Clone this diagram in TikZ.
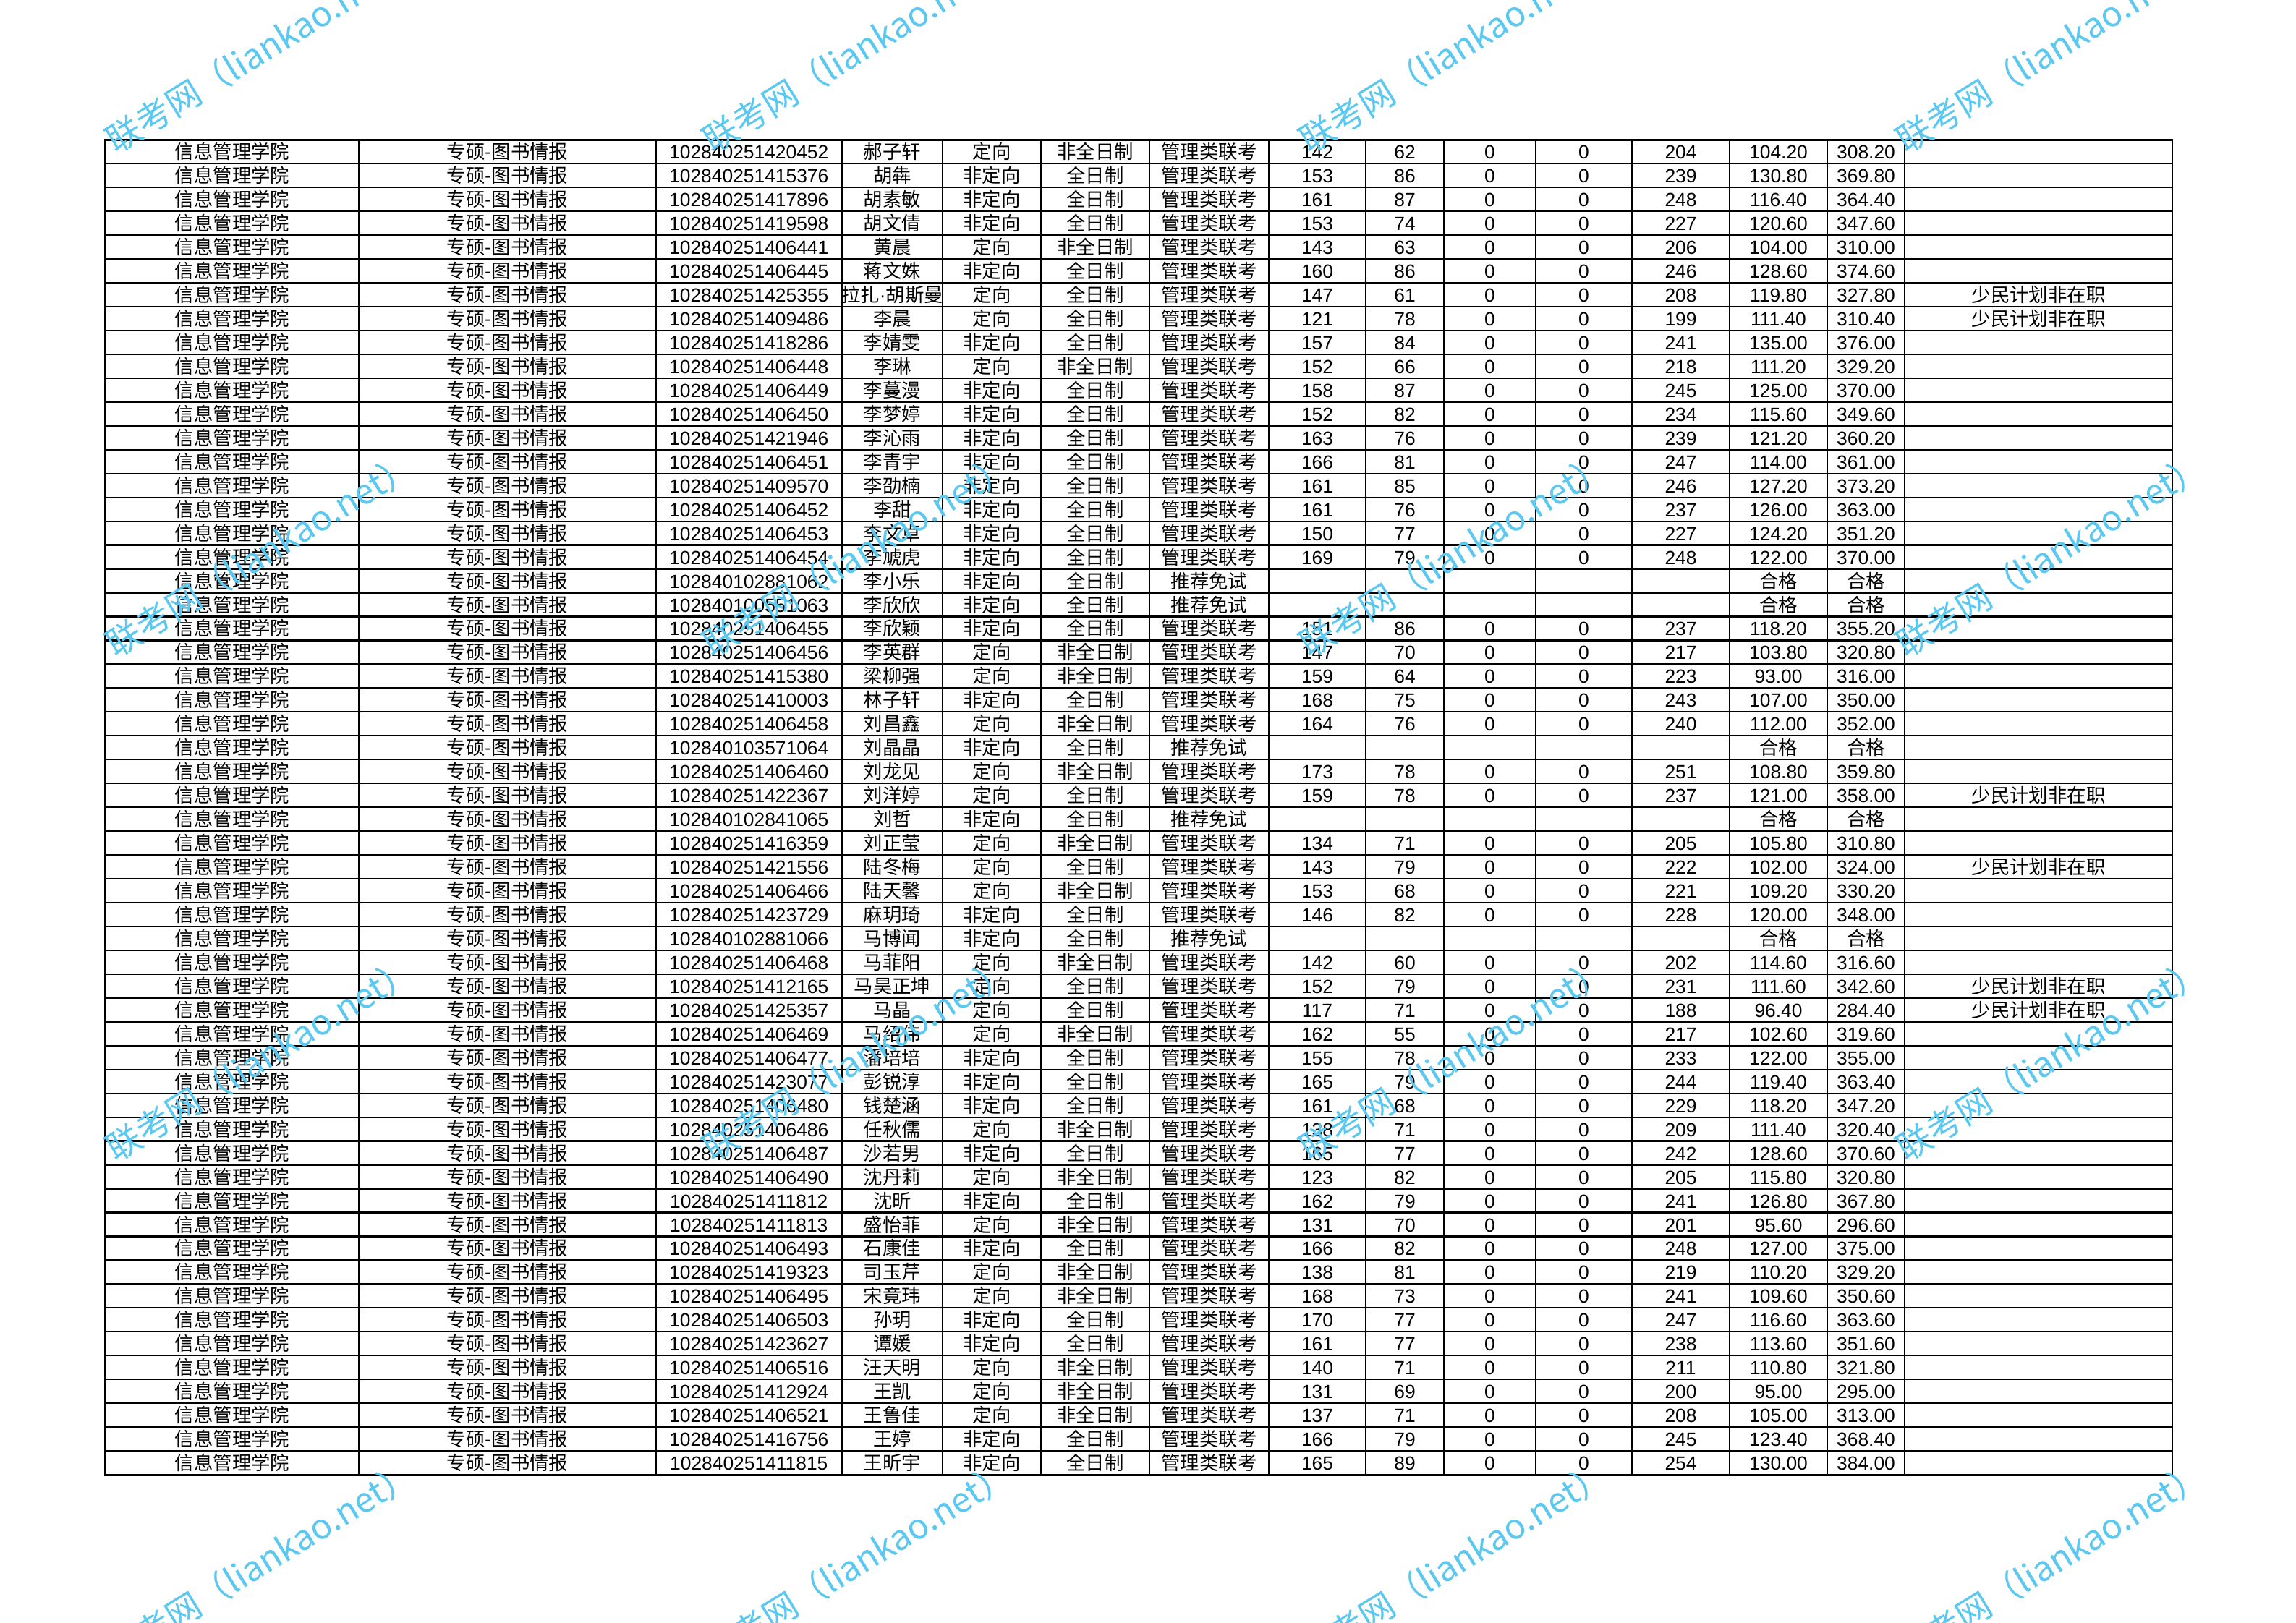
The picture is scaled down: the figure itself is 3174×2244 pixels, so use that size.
\documentclass[tikz,border=0pt]{standalone}
\usepackage{fontspec}
\setmainfont{Liberation Sans}
\newfontfamily\cjk{Noto Sans CJK SC}
\newfontfamily\wmfont{Noto Sans CJK SC}
\definecolor{wmblue}{RGB}{90,200,240}
\tikzset{
  cell/.style={anchor=base, inner sep=0pt, font=\fontsize{7pt}{8pt}\selectfont},
  ccell/.style={anchor=base, inner sep=0pt, font=\fontsize{7pt}{8pt}\selectfont\cjk},
  gridline/.style={line width=0.6pt, black},
  frameline/.style={line width=0.75pt, black},
  wm/.style={text=wmblue, rotate=31.5, inner sep=0pt, font=\fontsize{12.7pt}{14pt}\selectfont\wmfont}
}
\begin{document}
\begin{tikzpicture}[x=0.26525pt, y=-0.26525pt]
\useasboundingbox (0,0) rectangle (3174,2244);
\clip (0,0) rectangle (3174,2244);
\fill[white] (0,0) rectangle (3174,2244);
% grid
\foreach \k in {1,...,55} \draw[gridline] (145.6,{193.3+\k*32.96}) -- (3003,{193.3+\k*32.96});
\foreach \xx in {496.4,906.7,1164,1303,1439,1589,1754,1888,1996,2123,2256,2391,2526,2633}
  \draw[gridline] (\xx,193.3) -- (\xx,2039.1);
\draw[frameline] (145.6,193.3) rectangle (3003,2039.1);
% rows
\foreach \cA/\cB/\cC/\cD/\cE/\cF/\cG/\cH/\cI/\cJ/\cK/\cL/\cM [count=\i] in {
102840251420452/郝子轩/定向/非全日制/管理类联考/142/62/0/0/204/104.20/308.20/{},
102840251415376/胡犇/非定向/全日制/管理类联考/153/86/0/0/239/130.80/369.80/{},
102840251417896/胡素敏/非定向/全日制/管理类联考/161/87/0/0/248/116.40/364.40/{},
102840251419598/胡文倩/非定向/全日制/管理类联考/153/74/0/0/227/120.60/347.60/{},
102840251406441/黄晨/定向/非全日制/管理类联考/143/63/0/0/206/104.00/310.00/{},
102840251406445/蒋文姝/非定向/全日制/管理类联考/160/86/0/0/246/128.60/374.60/{},
102840251425355/{拉扎\normalfont·\cjk 胡斯曼}/定向/全日制/管理类联考/147/61/0/0/208/119.80/327.80/少民计划非在职,
102840251409486/李晨/定向/全日制/管理类联考/121/78/0/0/199/111.40/310.40/少民计划非在职,
102840251418286/李婧雯/非定向/全日制/管理类联考/157/84/0/0/241/135.00/376.00/{},
102840251406448/李琳/定向/非全日制/管理类联考/152/66/0/0/218/111.20/329.20/{},
102840251406449/李蔓漫/非定向/全日制/管理类联考/158/87/0/0/245/125.00/370.00/{},
102840251406450/李梦婷/非定向/全日制/管理类联考/152/82/0/0/234/115.60/349.60/{},
102840251421946/李沁雨/非定向/全日制/管理类联考/163/76/0/0/239/121.20/360.20/{},
102840251406451/李青宇/非定向/全日制/管理类联考/166/81/0/0/247/114.00/361.00/{},
102840251409570/李劭楠/非定向/全日制/管理类联考/161/85/0/0/246/127.20/373.20/{},
102840251406452/李甜/非定向/全日制/管理类联考/161/76/0/0/237/126.00/363.00/{},
102840251406453/李文卓/非定向/全日制/管理类联考/150/77/0/0/227/124.20/351.20/{},
102840251406454/李虓虎/非定向/全日制/管理类联考/169/79/0/0/248/122.00/370.00/{},
102840102881062/李小乐/非定向/全日制/推荐免试/{}/{}/{}/{}/{}/{\cjk 合格}/{\cjk 合格}/{},
102840100551063/李欣欣/非定向/全日制/推荐免试/{}/{}/{}/{}/{}/{\cjk 合格}/{\cjk 合格}/{},
102840251406455/李欣颖/非定向/全日制/管理类联考/151/86/0/0/237/118.20/355.20/{},
102840251406456/李英群/定向/非全日制/管理类联考/147/70/0/0/217/103.80/320.80/{},
102840251415380/梁柳强/定向/非全日制/管理类联考/159/64/0/0/223/93.00/316.00/{},
102840251410003/林子轩/非定向/全日制/管理类联考/168/75/0/0/243/107.00/350.00/{},
102840251406458/刘昌鑫/定向/非全日制/管理类联考/164/76/0/0/240/112.00/352.00/{},
102840103571064/刘晶晶/非定向/全日制/推荐免试/{}/{}/{}/{}/{}/{\cjk 合格}/{\cjk 合格}/{},
102840251406460/刘龙见/定向/非全日制/管理类联考/173/78/0/0/251/108.80/359.80/{},
102840251422367/刘洋婷/定向/全日制/管理类联考/159/78/0/0/237/121.00/358.00/少民计划非在职,
102840102841065/刘哲/非定向/全日制/推荐免试/{}/{}/{}/{}/{}/{\cjk 合格}/{\cjk 合格}/{},
102840251416359/刘正莹/定向/非全日制/管理类联考/134/71/0/0/205/105.80/310.80/{},
102840251421556/陆冬梅/定向/全日制/管理类联考/143/79/0/0/222/102.00/324.00/少民计划非在职,
102840251406466/陆天馨/定向/非全日制/管理类联考/153/68/0/0/221/109.20/330.20/{},
102840251423729/麻玥琦/非定向/全日制/管理类联考/146/82/0/0/228/120.00/348.00/{},
102840102881066/马博闻/非定向/全日制/推荐免试/{}/{}/{}/{}/{}/{\cjk 合格}/{\cjk 合格}/{},
102840251406468/马菲阳/定向/非全日制/管理类联考/142/60/0/0/202/114.60/316.60/{},
102840251412165/马昊正坤/定向/全日制/管理类联考/152/79/0/0/231/111.60/342.60/少民计划非在职,
102840251425357/马晶/定向/全日制/管理类联考/117/71/0/0/188/96.40/284.40/少民计划非在职,
102840251406469/马绍伟/定向/非全日制/管理类联考/162/55/0/0/217/102.60/319.60/{},
102840251406477/潘培培/非定向/全日制/管理类联考/155/78/0/0/233/122.00/355.00/{},
102840251423077/彭锐淳/非定向/全日制/管理类联考/165/79/0/0/244/119.40/363.40/{},
102840251406480/钱楚涵/非定向/全日制/管理类联考/161/68/0/0/229/118.20/347.20/{},
102840251406486/任秋儒/定向/非全日制/管理类联考/138/71/0/0/209/111.40/320.40/{},
102840251406487/沙若男/非定向/全日制/管理类联考/165/77/0/0/242/128.60/370.60/{},
102840251406490/沈丹莉/定向/非全日制/管理类联考/123/82/0/0/205/115.80/320.80/{},
102840251411812/沈昕/非定向/全日制/管理类联考/162/79/0/0/241/126.80/367.80/{},
102840251411813/盛怡菲/定向/非全日制/管理类联考/131/70/0/0/201/95.60/296.60/{},
102840251406493/石康佳/非定向/全日制/管理类联考/166/82/0/0/248/127.00/375.00/{},
102840251419323/司玉芹/定向/非全日制/管理类联考/138/81/0/0/219/110.20/329.20/{},
102840251406495/宋竟玮/定向/非全日制/管理类联考/168/73/0/0/241/109.60/350.60/{},
102840251406503/孙玥/非定向/全日制/管理类联考/170/77/0/0/247/116.60/363.60/{},
102840251423627/谭媛/非定向/全日制/管理类联考/161/77/0/0/238/113.60/351.60/{},
102840251406516/汪天明/定向/非全日制/管理类联考/140/71/0/0/211/110.80/321.80/{},
102840251412924/王凯/定向/非全日制/管理类联考/131/69/0/0/200/95.00/295.00/{},
102840251406521/王鲁佳/定向/非全日制/管理类联考/137/71/0/0/208/105.00/313.00/{},
102840251416756/王婷/非定向/全日制/管理类联考/166/79/0/0/245/123.40/368.40/{},
102840251411815/王昕宇/非定向/全日制/管理类联考/165/89/0/0/254/130.00/384.00/{}
}{
  \pgfmathsetmacro\yb{193.3+(\i-1)*32.96+26.5}
  \node[ccell] (r\i-1) at (321,\yb) {信息管理学院};
  \node[ccell] (r\i-2) at (701.5,\yb) {专硕-图书情报};
  \node[cell] (r\i-3) at (1035.3,\yb) {\cA};
  \node[ccell] (r\i-4) at (1233.5,\yb) {\cB};
  \node[ccell] (r\i-5) at (1371,\yb) {\cC};
  \node[ccell] (r\i-6) at (1514,\yb) {\cD};
  \node[ccell] (r\i-7) at (1671.5,\yb) {\cE};
  \node[cell] (r\i-8) at (1821,\yb) {\cF};
  \node[cell] (r\i-9) at (1942,\yb) {\cG};
  \node[cell] (r\i-10) at (2059.5,\yb) {\cH};
  \node[cell] (r\i-11) at (2189.5,\yb) {\cI};
  \node[cell] (r\i-12) at (2323.5,\yb) {\cJ};
  \node[cell] (r\i-13) at (2458.5,\yb) {\cK};
  \node[cell] (r\i-14) at (2579.5,\yb) {\cL};
  \node[ccell] (r\i-15) at (2818,\yb) {\cM};
}
% watermarks
\foreach \wi in {0,1,2,3}{
  \foreach \wj in {0,1,2,3}{
    \node[wm] (wm\wi-\wj) at ({360+825*\wi},{70+697*\wj}) {联考网（liankao.net）};
  }
}
\end{tikzpicture}
\end{document}
